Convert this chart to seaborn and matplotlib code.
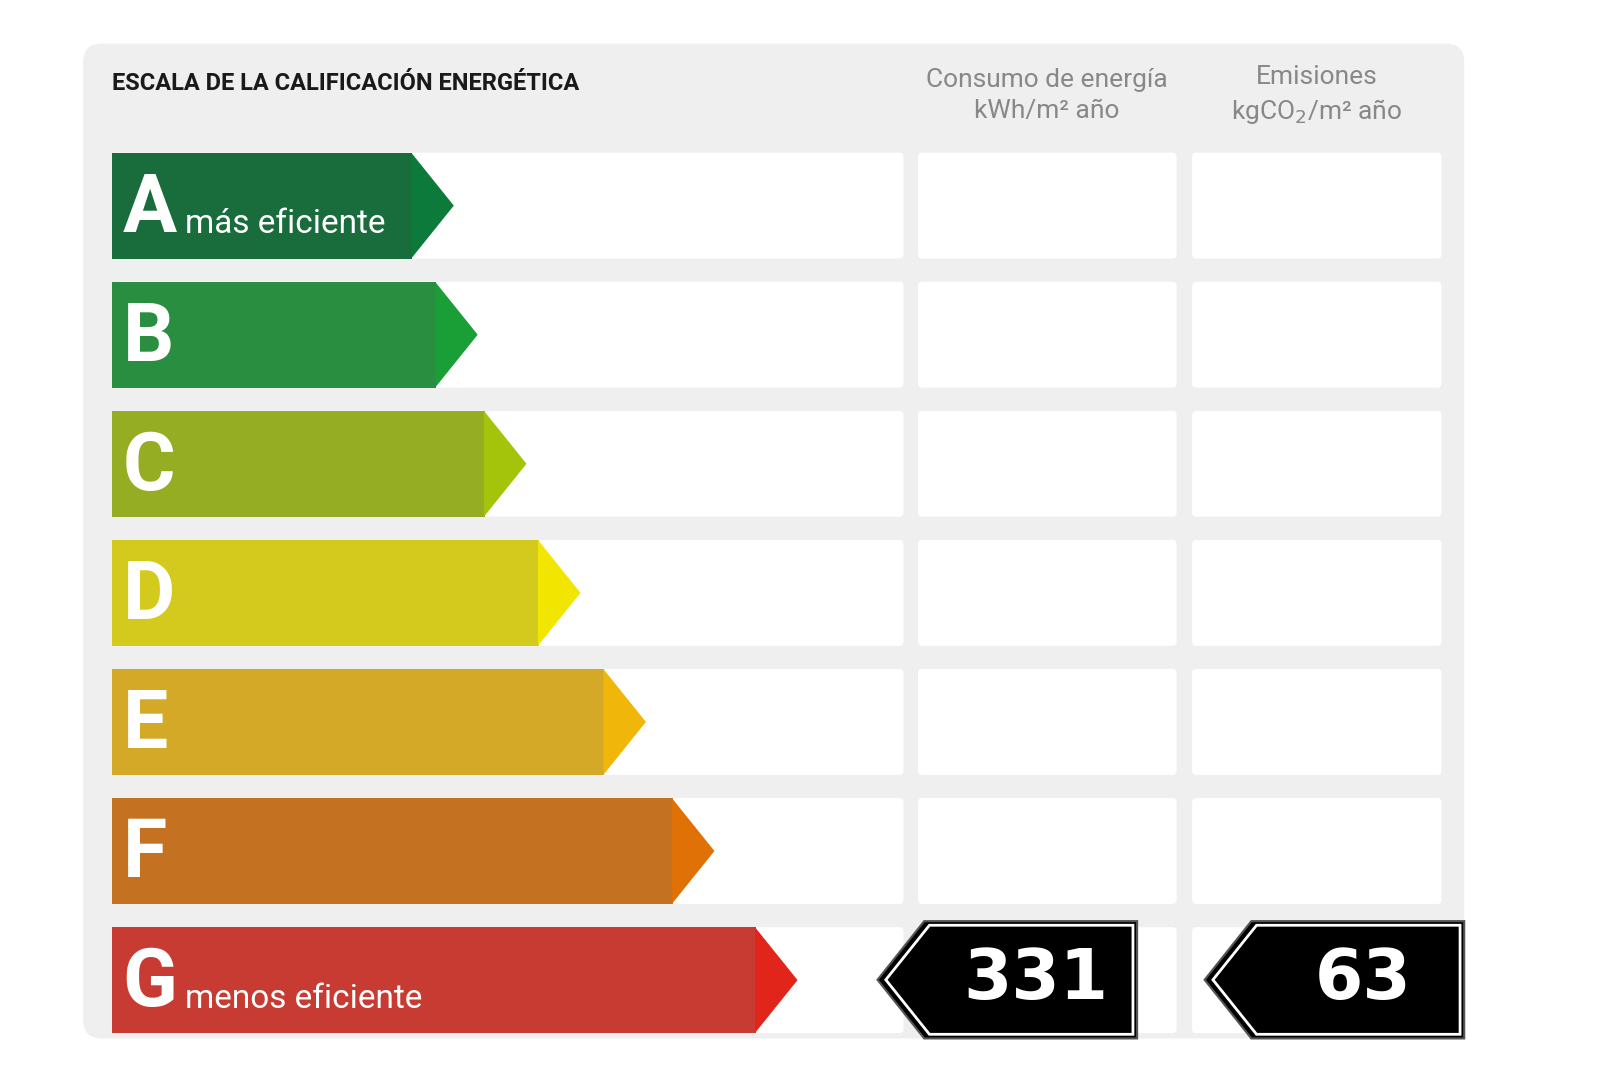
import numpy as np
import pandas as pd
import seaborn as sns
import matplotlib.pyplot as plt
from matplotlib.patches import Polygon, FancyBboxPatch, Rectangle

# energy classes, arrow tip positions (x in picture units) and colours
letters = ['A', 'B', 'C', 'D', 'E', 'F', 'G']
tips = [437, 460, 507, 559, 622, 688, 768]
colours = ['#0b7a3a', '#1a9e36', '#a4c40c', '#f2e500', '#f0b70a', '#df7106', '#e1251a']
subtitles = {'A': 'más eficiente', 'G': 'menos eficiente'}
energy_value = 331
emission_value = 63
rating = 'G'

left = 108
row_top = 147
row_step = 124.3
row_h = 102
point = 40

centers = [row_top + row_h / 2 + i * row_step for i in range(len(letters))]
df = pd.DataFrame({'letter': letters, 'end': [t - point for t in tips], 'y': centers})

fig = plt.figure(figsize=(16.2, 10.8), dpi=100)
ax = fig.add_axes([0, 0, 1, 1])
ax.set_xlim(0, 1560)
ax.set_ylim(1040, 0)
ax.axis('off')

# grey panel
ax.add_patch(FancyBboxPatch((80, 42), 1330, 958, boxstyle='round,pad=0,rounding_size=18',
                            fc='#efefef', ec='none', zorder=0))
ax.text(108, 80, 'ESCALA DE LA CALIFICACIÓN ENERGÉTICA', fontsize=17, fontweight='bold',
        fontstretch='condensed', va='center', ha='left', color='#1a1a1a', family='Roboto')
ax.text(1008, 92, 'Consumo de energía\nkWh/m² año', fontsize=19, color='#888888',
        ha='center', va='center', linespacing=1.35, family='Roboto')
ax.text(1268, 92, 'Emisiones\nkgCO$_2$/m² año', fontsize=19, color='#888888',
        ha='center', va='center', linespacing=1.35, family='Roboto')

# white cells
for c in centers:
    y0 = c - row_h / 2
    for x0, x1 in [(left, 870), (884, 1133), (1148, 1388)]:
        ax.add_patch(FancyBboxPatch((x0, y0), x1 - x0, row_h, boxstyle='round,pad=0,rounding_size=4',
                                    fc='white', ec='none', zorder=1))

# arrow bodies via seaborn
sns.barplot(data=df, x='end', y='y', hue='letter', palette=colours, orient='h',
            native_scale=True, width=row_h / row_step, legend=False, ax=ax, zorder=2,
            linewidth=0)
for patch, end in zip(ax.patches[-len(letters):], df['end']):
    patch.set_x(left)
    patch.set_width(end - left)
ax.set_xlim(0, 1560)
ax.set_ylim(1040, 0)
ax.axis('off')

for letter, tip, col, c in zip(letters, tips, colours, centers):
    y0, y1 = c - row_h / 2, c + row_h / 2
    ax.add_patch(Polygon([(tip - point - 1, y0), (tip, c), (tip - point - 1, y1)],
                         closed=True, fc=col, ec='none', zorder=2))
    ax.text(118, c + 4, letter, fontsize=58, fontweight='bold', color='white', ha='left',
            va='center', family='Roboto', fontstretch='condensed', zorder=3)
    if letter in subtitles:
        ax.text(178, c + 18, subtitles[letter], fontsize=24, color='white', ha='left',
                va='center', family='Roboto', zorder=3)

# rating indicators
g = centers[letters.index(rating)]
for x0, x1, val in [(845, 1095, energy_value), (1160, 1410, emission_value)]:
    yt, yb = 887, 1000
    ax.add_patch(Polygon([(x0, (yt + yb) / 2), (x0 + 45, yt), (x1, yt), (x1, yb), (x0 + 45, yb)],
                         closed=True, fc='black', ec='#555555', lw=1.5, zorder=4))
    ax.add_patch(Polygon([(x0 + 8, (yt + yb) / 2), (x0 + 50, yt + 4), (x1 - 4, yt + 4),
                          (x1 - 4, yb - 4), (x0 + 50, yb - 4)],
                         closed=True, fc='black', ec='white', lw=2, zorder=4))
    ax.text((x0 + 45 + x1) / 2 + 5, (yt + yb) / 2, str(val), fontsize=50, fontweight='bold',
            color='white', ha='center', va='center', family='DejaVu Sans', zorder=5)

fig.savefig('out.png', dpi=100, facecolor='white')
